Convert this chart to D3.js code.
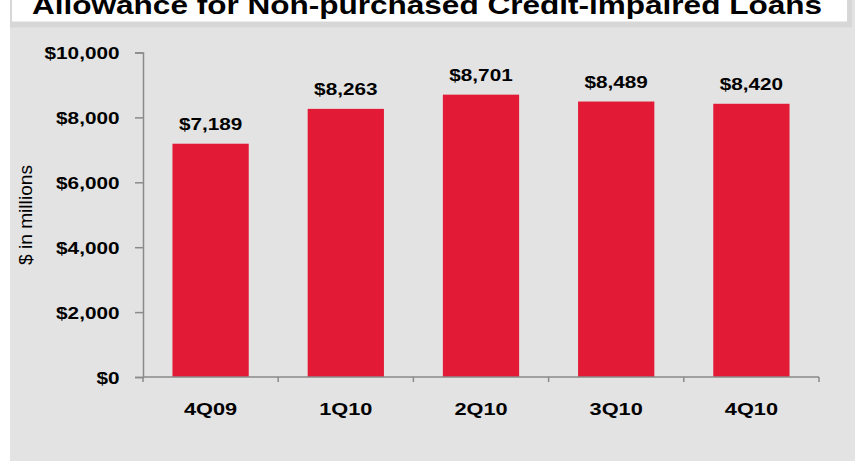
<!DOCTYPE html>
<html><head><meta charset="utf-8">
<script src="https://cdn.jsdelivr.net/npm/d3@7/dist/d3.min.js"></script>
<style>
html,body{margin:0;padding:0;background:#fff;}
svg{display:block;font-family:"Liberation Sans",Arial,sans-serif;}
</style></head>
<body>
<svg id="chart" width="855" height="461"></svg>
<script>
const title = "Allowance for Non-purchased Credit-impaired Loans";
const yAxisTitle = "$ in millions";
const categories = ["4Q09", "1Q10", "2Q10", "3Q10", "4Q10"];
const values = [7189, 8263, 8701, 8489, 8420];
const yTicks = [0, 2000, 4000, 6000, 8000, 10000];

const svg = d3.select("#chart");
const stretch = 1.22;

// background panel and title box
svg.append("rect").attr("x", 10).attr("y", 0).attr("width", 845).attr("height", 461).attr("fill", "#e3e3e3");
svg.append("rect").attr("x", 10).attr("y", 0).attr("width", 842).attr("height", 27.5).attr("fill", "#d7d7d7");
svg.append("rect").attr("x", 12).attr("y", 0).attr("width", 835).attr("height", 21.5).attr("fill", "#ffffff");
svg.append("text").attr("x", 32).attr("y", 14)
  .attr("font-size", 25).attr("font-weight", "bold").attr("fill", "#000")
  .attr("textLength", 790).attr("lengthAdjust", "spacingAndGlyphs")
  .text(title);

const plotLeft = 143, plotRight = 819, plotTop = 52.5, plotBottom = 377;

const x = d3.scaleBand().domain(categories).range([plotLeft, plotRight])
  .paddingInner(0.436).paddingOuter(0.218);
const y = d3.scaleLinear().domain([0, 10000]).range([plotBottom, plotTop]);

const axisColor = "#8a8a8a";

// Y axis
const yAxis = svg.append("g").attr("transform", `translate(${plotLeft},0)`)
  .call(d3.axisLeft(y).tickValues(yTicks).tickSize(8).tickSizeOuter(8)
    .tickFormat(d => "$" + d3.format(",")(d)));
yAxis.select(".domain").attr("stroke", axisColor).attr("stroke-width", 1.5);
yAxis.selectAll(".tick line").attr("stroke", axisColor).attr("stroke-width", 1.5);
yAxis.selectAll(".tick text")
  .attr("x", -23.5 / stretch).attr("dy", null).attr("y", 6)
  .attr("transform", `scale(${stretch},1)`)
  .attr("font-size", 17).attr("font-weight", "bold").attr("fill", "#000")
  .attr("font-family", "'Liberation Sans',Arial,sans-serif");

// bars
svg.append("g").selectAll("rect").data(values).join("rect")
  .attr("x", (d, i) => x(categories[i]))
  .attr("y", d => y(d))
  .attr("width", x.bandwidth())
  .attr("height", d => y(0) - y(d))
  .attr("fill", "#e31a35");

// X axis
const xAxis = svg.append("g").attr("transform", `translate(0,${plotBottom})`)
  .call(d3.axisBottom(x).tickSize(0).tickSizeOuter(0));
xAxis.select(".domain").attr("stroke", axisColor).attr("stroke-width", 1.5)
  .attr("d", `M${plotLeft},0H${plotRight}`);
xAxis.selectAll(".tick text")
  .attr("y", 38).attr("dy", null)
  .attr("transform", `scale(1.28,1)`)
  .attr("font-size", 17).attr("font-weight", "bold").attr("fill", "#000")
  .attr("font-family", "'Liberation Sans',Arial,sans-serif");
// boundary ticks between categories
const step = x.step();
const half = (step - x.bandwidth()) / 2;
const bounds = categories.map(c => x(c) - half).concat([x(categories[categories.length - 1]) + x.bandwidth() + half]);
xAxis.selectAll(".btick").data(bounds).join("line").attr("class", "btick")
  .attr("x1", d => d).attr("x2", d => d).attr("y1", 0).attr("y2", 5)
  .attr("stroke", axisColor).attr("stroke-width", 1.5);

// value labels
svg.append("g").selectAll("text").data(values).join("text")
  .attr("transform", (d, i) => `translate(${x(categories[i]) + x.bandwidth() / 2},${y(d) - 13.5}) scale(${stretch},1)`)
  .attr("text-anchor", "middle")
  .attr("font-size", 17).attr("font-weight", "bold").attr("fill", "#000")
  .text(d => "$" + d3.format(",")(d));

// y axis title
svg.append("text")
  .attr("transform", "translate(32,215) rotate(-90)")
  .attr("text-anchor", "middle")
  .attr("font-size", 18).attr("fill", "#000")
  .attr("textLength", 100).attr("lengthAdjust", "spacingAndGlyphs")
  .text(yAxisTitle);
</script>
</body></html>
